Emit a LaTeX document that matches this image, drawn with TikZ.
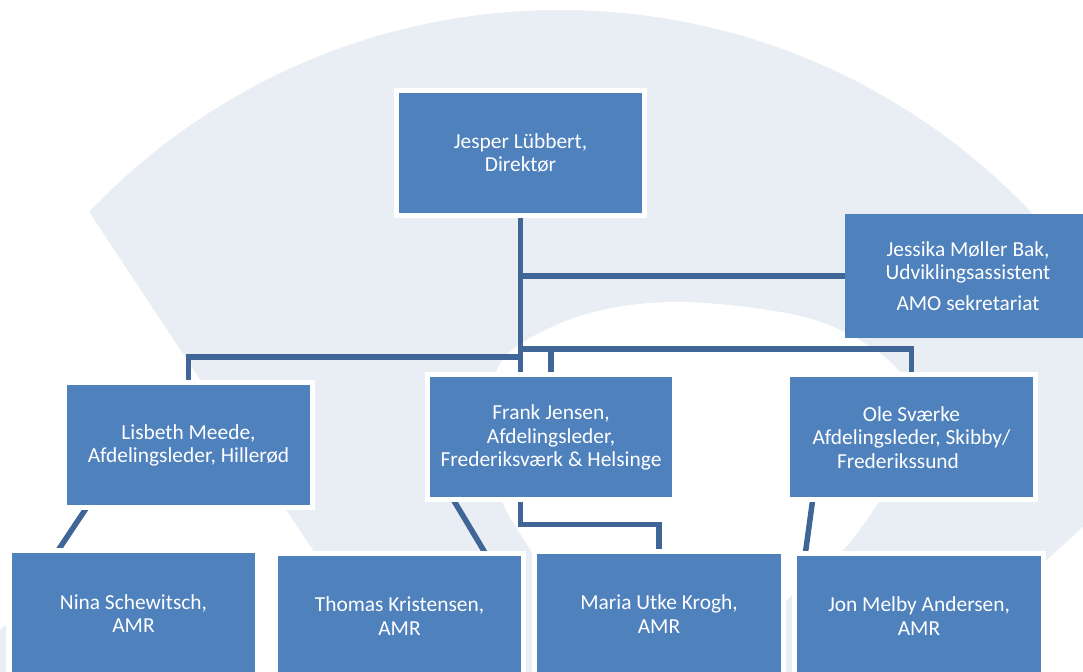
\documentclass[tikz,border=0pt]{standalone}
\usepackage{fontspec}
\setmainfont{Carlito}
\usetikzlibrary{calc}
\definecolor{boxblue}{RGB}{79,129,189}
\definecolor{linkblue}{RGB}{64,102,152}
\definecolor{wmark}{RGB}{233,238,245}
\pgfdeclarelayer{back}
\pgfdeclarelayer{links}
\pgfsetlayers{back,links,main}

\begin{document}
\begin{tikzpicture}[x=.5pt,y=-.5pt,
  person/.style={fill=boxblue,text=white,align=center,inner sep=0pt,outer sep=0pt,
    minimum width=121.5pt,minimum height=60pt,font=\fontsize{10.7}{11.75}\selectfont},
  framed/.style={preaction={draw=white,line width=5pt}},
  link/.style={draw=linkblue,line width=2.75pt}]
\useasboundingbox (0,0) rectangle (1083,672);
\begin{pgfonlayer}{back}
\begin{scope}
\clip (-112,-92) -- (594,975) -- (1767,-100) -- cycle;
\fill[wmark] (560,660) circle (650);
\end{scope}
\fill[white] (680,800) -- plot[smooth,tension=.6] coordinates {(610,690) (532,553) (502,500) (489,432) (495,375) (522,343) (590,313) (676,302) (780,312) (842,331) (898,370) (922,430) (880,500) (843,550) (790,597) (720,690)} -- cycle;
\fill[wmark] (0,630) -- (6,625) -- (6,672) -- (0,672) -- cycle;
\end{pgfonlayer}
\node[person,framed] (top) at (520.5,153) {Jesper Lübbert,\\Direktør};
\node[person,minimum width=123pt,minimum height=62pt] (jessika) at (968,276) {Jessika Møller Bak,\\Udviklingsassistent\\[3.5pt]AMO sekretariat};
\node[person,framed] (lisbeth) at (188.5,445.5) {Lisbeth Meede,\\Afdelingsleder, Hillerød};
\node[person,framed,minimum width=121pt] (frank) at (551,437.5) {Frank Jensen,\\Afdelingsleder,\\Frederiksværk \& Helsinge};
\node[person,framed] (ole) at (911.5,437.5) {Ole Sværke\\Afdelingsleder, Skibby/\\Frederikssund\hspace*{13.5pt}};
\node[person,framed] (nina) at (133.5,613.5) {Nina Schewitsch,\\AMR};
\node[person,framed] (thomas) at (399.5,616) {Thomas Kristensen,\\AMR};
\node[person,framed,minimum width=122pt] (maria) at (659,614) {Maria Utke Krogh,\\AMR};
\node[person,framed,minimum width=122pt] (jon) at (919,616) {Jon Melby Andersen,\\AMR};
\begin{pgfonlayer}{links}
\coordinate (forkR) at (520.5,349);
\coordinate (forkL) at (520.5,357);
\draw[link] (top.south) -- (top.south |- frank.north);
\draw[link] (top.south |- jessika.west) -- (jessika.west);
\draw[link] (forkR) -| (ole.north);
\draw[link] (forkL) -| (lisbeth.north);
\draw[link] (forkR -| frank.north) -- (frank.north);
\draw[link] ($(lisbeth.south west)+(21,0)$) -- ($(nina.north west)+(44,0)$);
\draw[link] ($(frank.south west)+(22,0)$) -- ($(thomas.north east)+(-34,0)$);
\draw[link] (frank.south -| top.south) -- ++(0,27) -| (maria.north);
\draw[link] ($(ole.south west)+(23,0)$) -- ($(jon.north west)+(8,0)$);
\end{pgfonlayer}
\end{tikzpicture}
\end{document}
